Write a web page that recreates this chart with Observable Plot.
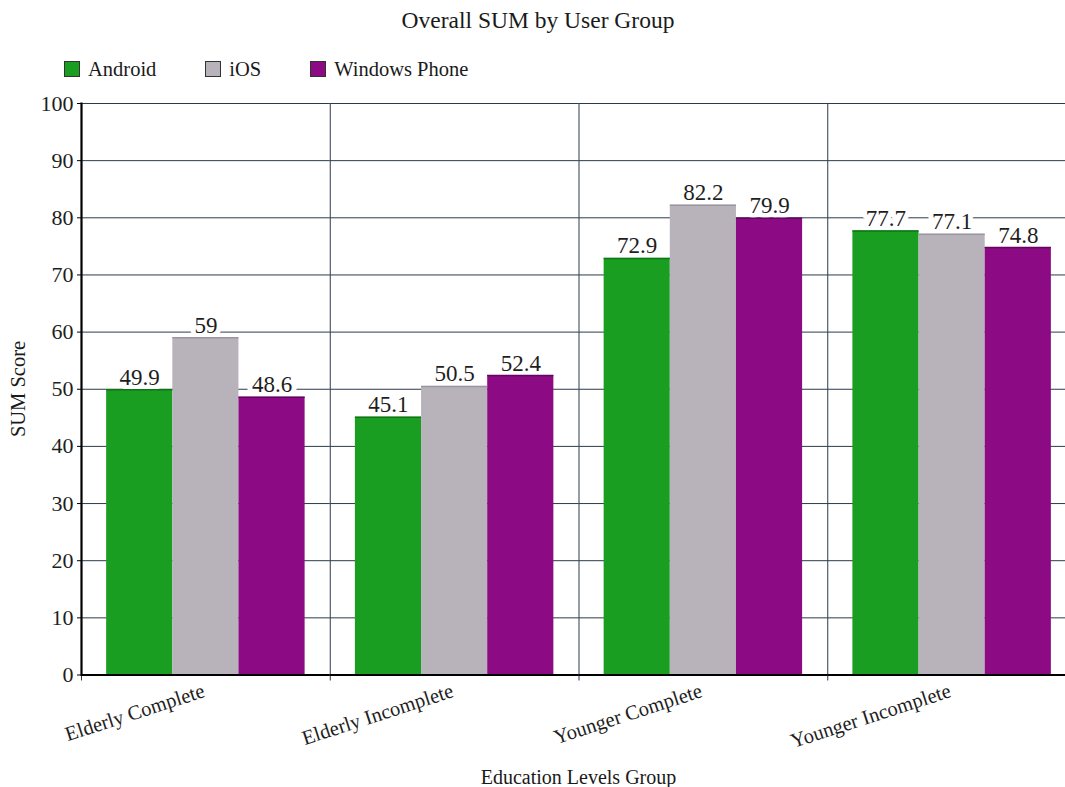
<!DOCTYPE html>
<html>
<head>
<meta charset="utf-8">
<script src="https://cdn.jsdelivr.net/npm/d3@7"></script>
<script src="https://cdn.jsdelivr.net/npm/@observablehq/plot@0.6"></script>
<style>
  html, body { margin: 0; padding: 0; background: #fff; overflow: hidden; }
  #wrap { position: relative; width: 1065px; height: 787px; overflow: hidden; background: #fff;
          font-family: "Liberation Serif", "Times New Roman", serif; color: #1a1a1a; }
  #title { position: absolute; top: 9px; left: 538px; transform: translateX(-50%); white-space: nowrap;
           font-size: 23.5px; line-height: 1; }
  #legend { position: absolute; top: 59px; left: 64px; display: flex; gap: 49px; font-size: 20.5px; line-height: 1; }
  #legend .item { display: flex; align-items: center; gap: 8px; white-space: nowrap; }
  #legend .sw { width: 14px; height: 14px; border: 1px solid #333; box-sizing: content-box; }
  #ylabel { position: absolute; left: 18px; top: 389px; transform: translate(-50%, -50%) rotate(-90deg);
            font-size: 20.5px; line-height: 1; white-space: nowrap; }
  #xlabel { position: absolute; top: 767px; left: 578.5px; transform: translateX(-50%); font-size: 20px;
            line-height: 1; white-space: nowrap; }
  #chart { position: absolute; top: 85px; left: 0; }
  #chart svg { max-width: none; overflow: visible; }
  #chart svg, #chart svg text { font-family: "Liberation Serif", "Times New Roman", serif !important; }
</style>
</head>
<body>
<div id="wrap">
  <div id="title"></div>
  <div id="legend"></div>
  <div id="ylabel"></div>
  <div id="xlabel"></div>
  <div id="chart"></div>
</div>
<script>
const titleText = "Overall SUM by User Group";
const xLabel = "Education Levels Group";
const yLabel = "SUM Score";
const groups = ["Elderly Complete", "Elderly Incomplete", "Younger Complete", "Younger Incomplete"];
const platforms = ["Android", "iOS", "Windows Phone"];
const android = [49.9, 45.1, 72.9, 77.7];
const ios = [59, 50.5, 82.2, 77.1];
const windowsPhone = [48.6, 52.4, 79.9, 74.8];
const colors = ["#1a9e22", "#b8b3bb", "#8c0a83"];
const edgeColors = ["#0e7514", "#9a96a0", "#640560"];
const yTicks = [0, 10, 20, 30, 40, 50, 60, 70, 80, 90, 100];

const series = [android, ios, windowsPhone];
const data = groups.flatMap((g, i) => platforms.map((p, j) => ({group: g, platform: p, value: series[j][i]})));

document.getElementById("title").textContent = titleText;
document.getElementById("xlabel").textContent = xLabel;
document.getElementById("ylabel").textContent = yLabel;
const legend = document.getElementById("legend");
platforms.forEach((p, i) => {
  const item = document.createElement("div");
  item.className = "item";
  const sw = document.createElement("span");
  sw.className = "sw";
  sw.style.background = colors[i];
  const t = document.createElement("span");
  t.textContent = p;
  item.append(sw, t);
  legend.append(item);
});

const serif = '"Liberation Serif", "Times New Roman", serif';
const grid = "#2b3b4d";
const chart = Plot.plot({
  width: 1076,
  height: 702,
  marginTop: 18,
  marginBottom: 112.5,
  marginLeft: 81,
  marginRight: 0,
  style: {fontFamily: serif, background: "transparent", color: "#1a1a1a"},
  fx: {domain: groups, paddingInner: 0, paddingOuter: 0, round: false, axis: null, label: null},
  x: {domain: platforms, paddingInner: 0, paddingOuter: 0.38, round: false, axis: null, label: null},
  y: {domain: [0, 100], label: null},
  color: {domain: platforms, range: colors},
  marks: [
    Plot.ruleY(yTicks, {stroke: grid, strokeWidth: 1}),
    Plot.frame({anchor: "left", stroke: grid, strokeWidth: 1, insetBottom: -5}),
    Plot.text(data, {fx: "group", x: "platform", y: "value", text: d => String(d.value),
      dy: -5, lineAnchor: "bottom", fontSize: 23, fontFamily: serif, fill: "#1e1e1e",
      stroke: "white", strokeWidth: 10, strokeLinejoin: "round"}),
    Plot.barY(data, {fx: "group", x: "platform", y: "value", fill: "platform"}),
    ...platforms.map((p, i) => Plot.tickY(data.filter(d => d.platform === p),
      {fx: "group", x: "platform", y: "value", stroke: edgeColors[i], strokeWidth: 1.5})),
    Plot.ruleY([0], {stroke: "#000", strokeWidth: 2.2}),
    Plot.frame({anchor: "left", facetAnchor: "left", stroke: "#000", strokeWidth: 2.2}),
    Plot.axisY(yTicks, {tickSize: 4, tickPadding: 4, fontSize: 22, fontFamily: serif, label: null,
      stroke: "#000", fill: "#1e1e1e", tickFormat: d => String(d)}),
    Plot.text(groups, {fx: d => d, frameAnchor: "bottom", text: d => d, dy: 21.5, rotate: -18,
      textAnchor: "end", lineAnchor: "bottom", fontSize: 20.5, fontFamily: serif, fill: "#1e1e1e"})
  ]
});
document.getElementById("chart").append(chart);
</script>
</body>
</html>
